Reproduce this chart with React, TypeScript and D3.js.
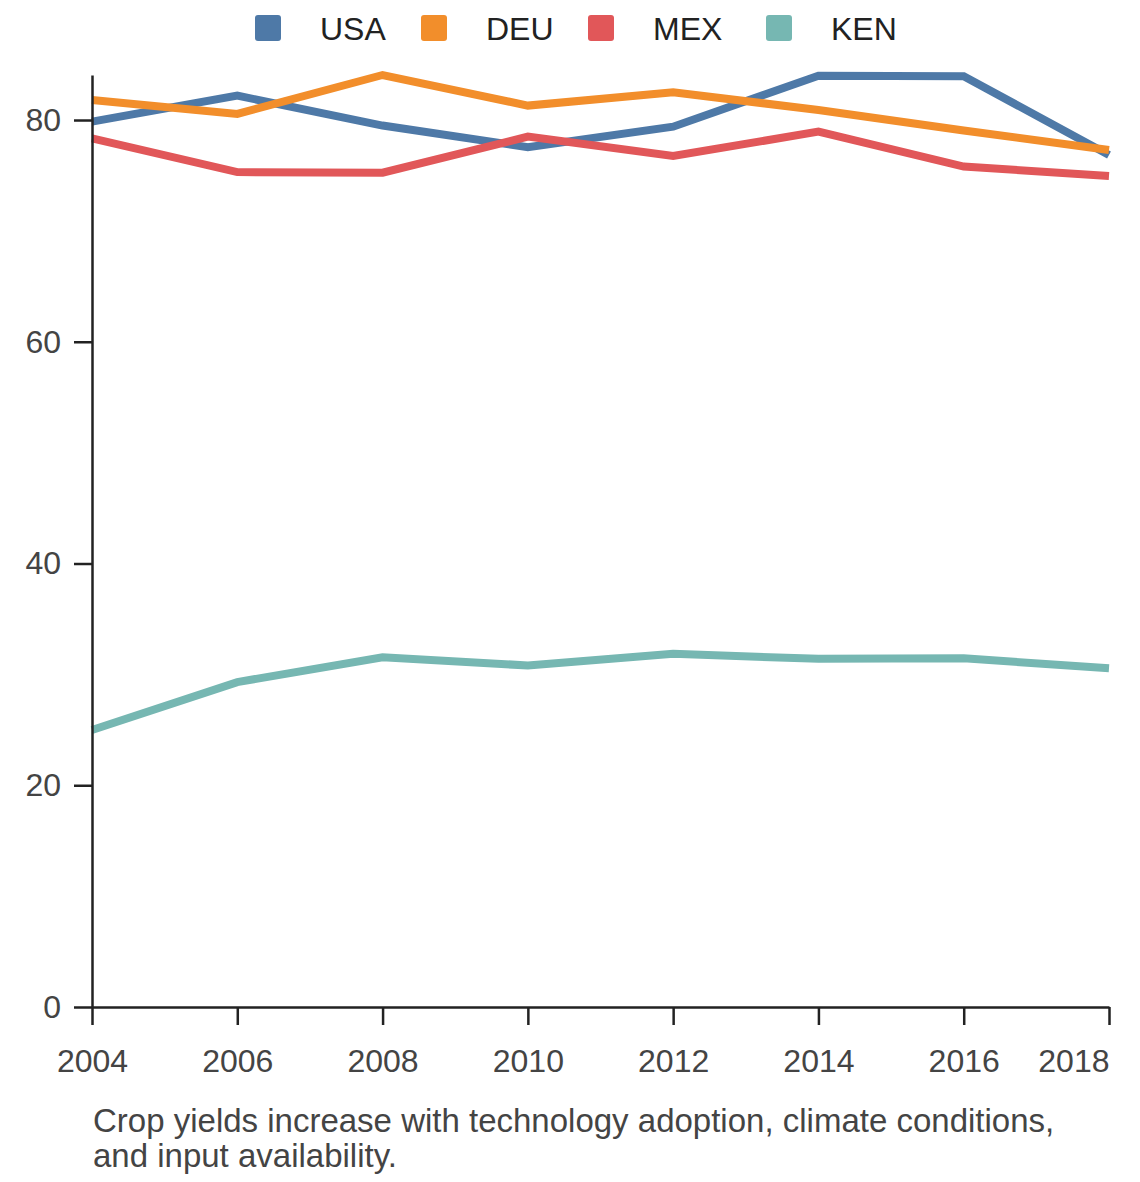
import React, { useEffect, useRef } from "react";
import * as d3 from "d3";

const years = [2004, 2006, 2008, 2010, 2012, 2014, 2016, 2018];
const countries = ["USA", "DEU", "MEX", "KEN"];
const usaValues = [79.85, 82.2, 79.5, 77.55, 79.4, 84.0, 83.95, 76.85];
const deuValues = [81.8, 80.55, 84.06, 81.3, 82.5, 80.9, 79.05, 77.3];
const mexValues = [78.35, 75.3, 75.25, 78.5, 76.75, 78.95, 75.8, 74.95];
const kenValues = [24.98, 29.3, 31.55, 30.8, 31.85, 31.4, 31.45, 30.55];
const yTicks = [0, 20, 40, 60, 80];
const xTicks = [2004, 2006, 2008, 2010, 2012, 2014, 2016, 2018];
const colors = ["#4e79a7", "#f28e2b", "#e15759", "#76b7b2"];
const captionLines = [
  "Crop yields increase with technology adoption, climate conditions,",
  "and input availability.",
];

const W = 1140;
const H = 1182;
const M = { left: 92, right: 31, top: 75, bottom: 175 };
const LEGEND_X = [255, 421, 588, 766];
const FONT = "'Liberation Sans', Arial, Helvetica, sans-serif";

export default function App() {
  const ref = useRef<SVGSVGElement | null>(null);

  useEffect(() => {
    const svg = d3.select(ref.current);
    svg.selectAll("*").remove();

    const series = [usaValues, deuValues, mexValues, kenValues];
    const all = series.flat();

    const x = d3
      .scaleLinear()
      .domain([years[0], years[years.length - 1]])
      .range([M.left, W - M.right]);
    const y = d3
      .scaleLinear()
      .domain([0, d3.max(all) as number])
      .range([H - M.bottom - 0, M.top]);

    // zero at 1007
    y.range([1007, M.top]);

    const line = d3
      .line<number>()
      .x((_, i) => x(years[i]))
      .y((d) => y(d));

    const gLines = svg.append("g");
    series.forEach((vals, i) => {
      gLines
        .append("path")
        .datum(vals)
        .attr("d", line)
        .attr("fill", "none")
        .attr("stroke", colors[i])
        .attr("stroke-width", 8)
        .attr("stroke-linejoin", "miter");
    });

    // x axis
    const xAxis = d3
      .axisBottom(x)
      .tickValues(xTicks)
      .tickFormat((d) => String(d))
      .tickSizeInner(18)
      .tickSizeOuter(0)
      .tickPadding(24);
    const gx = svg
      .append("g")
      .attr("transform", `translate(0,${y(0)})`)
      .call(xAxis);
    gx.select(".domain").attr("stroke", "#222").attr("stroke-width", 2.5);
    gx.selectAll(".tick line").attr("stroke", "#222").attr("stroke-width", 2.5);
    gx.selectAll(".tick text")
      .attr("fill", "#444")
      .attr("font-size", 32)
      .attr("font-family", FONT)
      .attr("text-anchor", (d: any) =>
        d === xTicks[xTicks.length - 1] ? "end" : "middle"
      );

    // y axis
    const yAxis = d3
      .axisLeft(y)
      .tickValues(yTicks)
      .tickSizeInner(18)
      .tickSizeOuter(0)
      .tickPadding(13);
    const gy = svg
      .append("g")
      .attr("transform", `translate(${M.left},0)`)
      .call(yAxis);
    gy.select(".domain").attr("stroke", "#222").attr("stroke-width", 2.5);
    gy.selectAll(".tick line").attr("stroke", "#222").attr("stroke-width", 2.5);
    gy.selectAll(".tick text")
      .attr("fill", "#444")
      .attr("font-size", 32)
      .attr("font-family", FONT);
    gx.attr("font-family", FONT);
    gy.attr("font-family", FONT);

    // legend
    const gLeg = svg.append("g");
    countries.forEach((c, i) => {
      const gi = gLeg.append("g").attr("transform", `translate(${LEGEND_X[i]},0)`);
      gi.append("rect")
        .attr("x", 0)
        .attr("y", 15)
        .attr("width", 26)
        .attr("height", 26)
        .attr("rx", 3)
        .attr("fill", colors[i]);
      gi.append("text")
        .attr("x", 65)
        .attr("y", 40)
        .attr("font-size", 32)
        .attr("font-family", FONT)
        .attr("fill", "#222")
        .text(c);
    });

    // caption
    const cap = svg
      .append("text")
      .attr("x", 93)
      .attr("y", 1132)
      .attr("font-size", 33)
      .attr("font-family", FONT)
      .attr("fill", "#444");
    captionLines.forEach((t, i) => {
      cap
        .append("tspan")
        .attr("x", 93)
        .attr("dy", i === 0 ? 0 : 35)
        .text(t);
    });
  }, []);

  return (
    <svg
      ref={ref}
      width={W}
      height={H}
      style={{ position: "absolute", left: 0, top: 0, background: "#fff" }}
    />
  );
}
